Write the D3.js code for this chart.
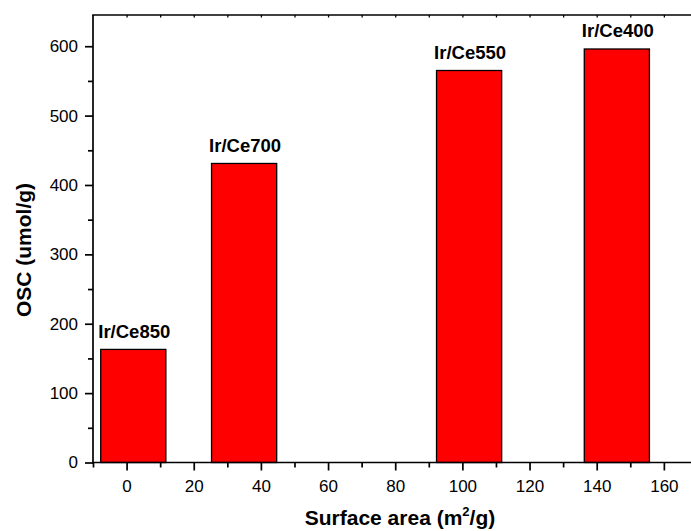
<!DOCTYPE html>
<html><head><meta charset="utf-8">
<script src="https://cdn.jsdelivr.net/npm/d3@7"></script>
<style>html,body{margin:0;padding:0;background:#fff;overflow:hidden}svg{display:block}</style>
</head><body>
<svg id="c" width="691" height="531"></svg>
<script>
const samples = ["Ir/Ce850", "Ir/Ce700", "Ir/Ce550", "Ir/Ce400"];
const surfaceArea = [2, 35, 102, 146];
const osc = [163, 431, 565, 596];
const barWidthUnits = 19.4;
const xTicks = [0, 20, 40, 60, 80, 100, 120, 140, 160];
const yTicks = [0, 100, 200, 300, 400, 500, 600];

const svg = d3.select("#c");
const L = 93, T = 15, B = 462.5;
const x = d3.scaleLinear().domain([-10, 170]).range([L, L + 180 * 3.358]);
const y = d3.scaleLinear().domain([0, 645]).range([B, T]);
const font = "Arial, 'Liberation Sans', sans-serif";
const xEnd = 691;

// bars
svg.selectAll("rect.bar").data(osc).enter().append("rect")
  .attr("class", "bar")
  .attr("x", (d, i) => x(surfaceArea[i] - barWidthUnits / 2))
  .attr("width", x(barWidthUnits) - x(0))
  .attr("y", d => y(d))
  .attr("height", d => y(0) - y(d))
  .attr("fill", "#ff0000").attr("stroke", "#000").attr("stroke-width", 1.3);

// labels
svg.selectAll("text.lab").data(osc).enter().append("text")
  .attr("class", "lab")
  .attr("x", (d, i) => x(surfaceArea[i]) + 1)
  .attr("y", d => y(d) - 11.5)
  .attr("text-anchor", "middle")
  .attr("font-family", font).attr("font-weight", "bold").attr("font-size", 18.5)
  .text((d, i) => samples[i]);

// frame lines (left, bottom, top)
svg.append("line").attr("x1", L).attr("x2", L).attr("y1", T).attr("y2", B + 0.8)
  .attr("stroke", "#000").attr("stroke-width", 1.7);
svg.append("line").attr("x1", L - 0.8).attr("x2", xEnd).attr("y1", B).attr("y2", B)
  .attr("stroke", "#000").attr("stroke-width", 1.7);
svg.append("line").attr("x1", L - 0.8).attr("x2", xEnd).attr("y1", T).attr("y2", T)
  .attr("stroke", "#000").attr("stroke-width", 1.4);

// axes (ticks only)
const xMinor = d3.range(-10, 161, 20);
const yMinor = d3.range(50, 645, 100);
const gx = svg.append("g").attr("transform", `translate(0,${B})`)
  .call(d3.axisBottom(x).tickValues(xTicks).tickSize(8).tickPadding(9).tickFormat(d3.format("d")));
const gxm = svg.append("g").attr("transform", `translate(0,${B})`)
  .call(d3.axisBottom(x).tickValues(xMinor).tickSize(5).tickFormat(""));
const gy = svg.append("g").attr("transform", `translate(${L},0)`)
  .call(d3.axisLeft(y).tickValues(yTicks).tickSize(8).tickPadding(7));
const gym = svg.append("g").attr("transform", `translate(${L},0)`)
  .call(d3.axisLeft(y).tickValues(yMinor).tickSize(5).tickFormat(""));
const gt = svg.append("g").attr("transform", `translate(0,${T})`)
  .call(d3.axisBottom(x).tickValues(d3.range(0, 161, 10)).tickSize(2.5).tickFormat(""));

[gx, gxm, gy, gym, gt].forEach(g => {
  g.selectAll("path.domain").remove();
  g.selectAll("line").attr("stroke-width", 1.7).attr("stroke", "#000");
  g.selectAll("text").attr("font-family", font).attr("font-size", 17).attr("fill", "#000");
});
gt.selectAll("line").attr("stroke-width", 1.3);

// axis titles
const xt = svg.append("text").attr("x", 400).attr("y", 525)
  .attr("text-anchor", "middle").attr("font-family", font).attr("font-weight", "bold").attr("font-size", 21);
xt.append("tspan").text("Surface area (m");
xt.append("tspan").attr("dy", -9).attr("font-size", 13).text("2");
xt.append("tspan").attr("dy", 9).text("/g)");

svg.append("text").attr("transform", `translate(31,250) rotate(-90)`)
  .attr("text-anchor", "middle").attr("font-family", font).attr("font-weight", "bold").attr("font-size", 21)
  .text("OSC (umol/g)");
</script>
</body></html>
